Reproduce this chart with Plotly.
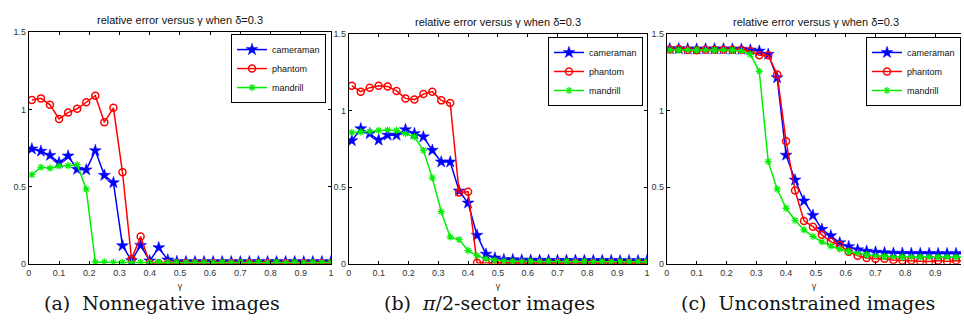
import plotly.graph_objects as go

gamma = [0.01, 0.04, 0.07, 0.10, 0.13, 0.16, 0.19, 0.22, 0.25, 0.28, 0.31, 0.34,
         0.37, 0.40, 0.43, 0.46, 0.49, 0.52, 0.55, 0.58, 0.61, 0.64, 0.67, 0.70,
         0.73, 0.76, 0.79, 0.82, 0.85, 0.88, 0.91, 0.94, 0.97, 1.00]

# (a) Nonnegative images
cam_a = [0.744, 0.729, 0.702, 0.656, 0.698, 0.612, 0.608, 0.733, 0.573, 0.525, 0.117, 0.020,
         0.119, 0.019, 0.104, 0.025, 0.014, 0.013, 0.013, 0.013, 0.013, 0.013, 0.013, 0.013,
         0.013, 0.013, 0.013, 0.013, 0.013, 0.013, 0.013, 0.013, 0.013, 0.013]
pha_a = [1.060, 1.071, 1.029, 0.938, 0.979, 1.004, 1.046, 1.088, 0.917, 1.010, 0.592, 0.031,
         0.177, 0.004, 0.003, 0.003, 0.003, 0.003, 0.003, 0.003, 0.003, 0.003, 0.003, 0.003,
         0.003, 0.003, 0.003, 0.003, 0.003, 0.003, 0.003, 0.003, 0.003, 0.003]
man_a = [0.577, 0.625, 0.619, 0.633, 0.635, 0.642, 0.483, 0.012, 0.010, 0.009, 0.008, 0.008,
         0.008, 0.008, 0.008, 0.008, 0.008, 0.008, 0.008, 0.008, 0.008, 0.008, 0.008, 0.008,
         0.008, 0.008, 0.008, 0.008, 0.008, 0.008, 0.008, 0.008, 0.008, 0.008]

# (b) pi/2-sector images
cam_b = [0.804, 0.882, 0.850, 0.808, 0.840, 0.840, 0.876, 0.850, 0.829, 0.741, 0.665, 0.665,
         0.475, 0.397, 0.186, 0.063, 0.038, 0.027, 0.027, 0.024, 0.023, 0.023, 0.022, 0.022,
         0.022, 0.022, 0.021, 0.021, 0.021, 0.021, 0.020, 0.020, 0.020, 0.020]
pha_b = [1.162, 1.124, 1.150, 1.162, 1.158, 1.129, 1.080, 1.072, 1.108, 1.124, 1.067, 1.050,
         0.466, 0.470, 0.006, 0.005, 0.005, 0.004, 0.004, 0.004, 0.004, 0.004, 0.004, 0.004,
         0.004, 0.004, 0.004, 0.004, 0.004, 0.004, 0.004, 0.004, 0.004, 0.004]
man_b = [0.857, 0.861, 0.863, 0.871, 0.873, 0.871, 0.850, 0.829, 0.741, 0.561, 0.340, 0.175,
         0.158, 0.086, 0.053, 0.032, 0.023, 0.017, 0.015, 0.015, 0.015, 0.014, 0.014, 0.014,
         0.014, 0.014, 0.014, 0.013, 0.013, 0.013, 0.013, 0.013, 0.013, 0.013]

# (c) Unconstrained images
cam_c = [1.404, 1.404, 1.403, 1.402, 1.403, 1.403, 1.403, 1.402, 1.401, 1.396, 1.389, 1.368,
         1.215, 0.709, 0.547, 0.410, 0.316, 0.225, 0.183, 0.137, 0.112, 0.091, 0.082, 0.076,
         0.072, 0.069, 0.068, 0.067, 0.067, 0.067, 0.066, 0.066, 0.066, 0.066]
pha_c = [1.400, 1.403, 1.396, 1.394, 1.397, 1.397, 1.398, 1.398, 1.398, 1.390, 1.362, 1.362,
         1.236, 0.800, 0.478, 0.280, 0.242, 0.189, 0.143, 0.122, 0.078, 0.053, 0.038, 0.032,
         0.032, 0.025, 0.021, 0.021, 0.017, 0.015, 0.021, 0.015, 0.021, 0.018]
man_c = [1.396, 1.396, 1.396, 1.396, 1.396, 1.396, 1.396, 1.396, 1.390, 1.368, 1.257, 0.667,
         0.488, 0.362, 0.284, 0.221, 0.179, 0.143, 0.116, 0.095, 0.080, 0.069, 0.059, 0.053,
         0.048, 0.046, 0.045, 0.044, 0.044, 0.044, 0.044, 0.044, 0.044, 0.044]

names = ["cameraman", "phantom", "mandrill"]
title_text = "relative error versus \u03b3 when \u03b4=0.3"
captions = ["(a)  Nonnegative images", "(b)  <i>\u03c0</i>/2-sector images", "(c)  Unconstrained images"]

W, H = 964, 324
def px(x):
    return x / W
def py(y):
    return 1 - y / H

styles = [
    dict(color="#0000ff", symbol="star", size=9, lw=0.5),
    dict(color="#ff0000", symbol="circle-open", size=7, lw=1.5),
    dict(color="#00ee00", symbol="asterisk-open", size=6, lw=1.2),
]

panels = [
    dict(data=[cam_a, pha_a, man_a], xdom=(26, 330), ydom=(28, 267), xr=[0, 1], legend="legend",
         leg=dict(x=px(325), y=py(30), xanchor="right"), ty=15),
    dict(data=[cam_b, pha_b, man_b], xdom=(348, 648), ydom=(30, 267), xr=[0, 1], legend="legend2",
         leg=dict(x=px(644), y=py(33), xanchor="right"), ty=18),
    dict(data=[cam_c, pha_c, man_c], xdom=(668, 964), ydom=(30, 267), xr=[0, 296 / 300], legend="legend3",
         leg=dict(x=1.0, y=py(33), xanchor="right"), ty=18),
]

fig = go.Figure()
layout = dict(
    width=W, height=H, margin=dict(l=0, r=0, t=0, b=0),
    paper_bgcolor="white", plot_bgcolor="white", showlegend=True,
    font=dict(family="Liberation Sans, Arial", size=9, color="#222"),
)
annotations = []
tickfont = dict(family="Liberation Sans, Arial", size=9, color="#333")

for i, p in enumerate(panels):
    k = "" if i == 0 else str(i + 1)
    for j, ys in enumerate(p["data"]):
        s = styles[j]
        fig.add_trace(go.Scatter(
            x=gamma, y=ys, name=names[j], mode="lines+markers",
            xaxis="x" + k, yaxis="y" + k, legend=p["legend"],
            line=dict(color=s["color"], width=1.5),
            marker=dict(symbol=s["symbol"], size=s["size"], color=s["color"],
                        line=dict(color=s["color"], width=s["lw"])),
            cliponaxis=True,
        ))
    last = i == 2
    layout["xaxis" + k] = dict(
        domain=[px(p["xdom"][0]), px(p["xdom"][1])], range=p["xr"], anchor="y" + k,
        tickvals=[0, 0.1, 0.2, 0.3, 0.4, 0.5, 0.6, 0.7, 0.8, 0.9, 1],
        ticktext=["0", "0.1", "0.2", "0.3", "0.4", "0.5", "0.6", "0.7", "0.8", "0.9", "1"],
        ticks="inside", ticklen=3, tickcolor="black", showline=True, linecolor="black",
        linewidth=1, mirror="ticks", showgrid=False, zeroline=False, tickfont=tickfont,
        title=dict(text="\u03b3", font=dict(size=9, color="#333"), standoff=6),
    )
    layout["yaxis" + k] = dict(
        domain=[py(p["ydom"][1]), py(p["ydom"][0])], range=[0, 1.5], anchor="x" + k,
        tickvals=[0, 0.5, 1, 1.5], ticktext=["0", "0.5", "1", "1.5"],
        ticks="inside", ticklen=3, tickcolor="black", showline=True, linecolor="black",
        linewidth=1, mirror=False if last else "ticks", showgrid=False, zeroline=False,
        tickfont=tickfont,
    )
    layout[p["legend"]] = dict(
        x=p["leg"]["x"], y=p["leg"]["y"], xanchor=p["leg"]["xanchor"], yanchor="top",
        bgcolor="white", bordercolor="black", borderwidth=1,
        font=dict(family="Liberation Sans, Arial", size=9, color="#111"),
        tracegroupgap=0, itemwidth=30,
    )
    cx = (p["xdom"][0] + p["xdom"][1]) / 2 if not last else 818
    annotations.append(dict(
        text=title_text, x=px(cx), y=py(p["ty"]), xref="paper", yref="paper",
        showarrow=False, xanchor="center", yanchor="middle",
        font=dict(family="Liberation Sans, Arial", size=11, color="#111"),
    ))

cap_x = [160, 490, 810]
for i, c in enumerate(captions):
    annotations.append(dict(
        text=c, x=px(cap_x[i]), y=py(307), xref="paper", yref="paper",
        showarrow=False, xanchor="center", yanchor="middle",
        font=dict(family="DejaVu Serif", size=19, color="#111"),
    ))

layout["annotations"] = annotations
fig.update_layout(**layout)
fig.write_html("out.html")
